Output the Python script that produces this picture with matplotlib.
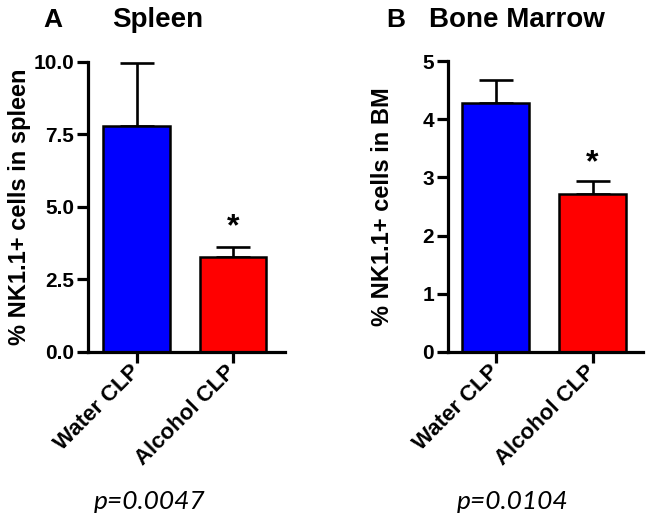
from __future__ import annotations

import matplotlib

matplotlib.use("Agg")

from matplotlib import pyplot as plt
from matplotlib.ticker import FormatStrFormatter

groups = ["Water CLP", "Alcohol CLP"]
bar_colors = ["#0000ff", "#ff0000"]

spleen_mean = [7.79, 3.28]
spleen_sem = [2.17, 0.34]
spleen_star = 4.3
spleen_ticks = [0.0, 2.5, 5.0, 7.5, 10.0]

bm_mean = [4.28, 2.71]
bm_sem = [0.40, 0.23]
bm_star = 3.25
bm_ticks = [0, 1, 2, 3, 4, 5]

panels = ["A", "B"]
titles = ["Spleen", "Bone Marrow"]
ylabels = ["% NK1.1+ cells in spleen", "% NK1.1+ cells in BM"]
pvalues = ["p=0.0047", "p=0.0104"]

plt.rcParams["font.family"] = ["Liberation Sans", "DejaVu Sans"]
plt.rcParams["font.weight"] = "bold"


def draw_panel(ax, means, sems, star_y, ticks, ylabel, xlim, fmt):
    x = list(range(len(groups)))
    ax.bar(x, means, width=0.69, color=bar_colors, edgecolor="black", linewidth=1.8, zorder=2)
    ax.errorbar(
        x,
        means,
        yerr=[[0] * len(sems), sems],
        fmt="none",
        ecolor="black",
        elinewidth=1.9,
        capsize=12,
        capthick=1.9,
        zorder=1,
    )
    ax.text(1, star_y, "*", ha="center", va="center", fontsize=23, fontweight="bold")

    ax.set_xlim(*xlim)
    ax.set_ylim(0, ticks[-1])
    ax.set_yticks(ticks)
    ax.yaxis.set_major_formatter(FormatStrFormatter(fmt))
    ax.set_xticks(x)
    ax.set_xticklabels(groups, rotation=45, ha="right", va="center", rotation_mode="anchor")
    for side in ("top", "right"):
        ax.spines[side].set_visible(False)
    for side in ("left", "bottom"):
        ax.spines[side].set_linewidth(2.3)
    ax.tick_params(width=2.3, length=8, pad=2)
    ax.tick_params(axis="y", labelsize=15)
    ax.tick_params(axis="x", labelsize=16, pad=4)
    ax.set_ylabel(ylabel, fontsize=17, fontweight="bold")


def main() -> None:
    fig = plt.figure(figsize=(6.51, 5.21), dpi=100)
    ax_a = fig.add_axes([0.1352, 0.3244, 0.3026, 0.5566])
    ax_b = fig.add_axes([0.6882, 0.3244, 0.2995, 0.5585])

    draw_panel(ax_a, spleen_mean, spleen_sem, spleen_star, spleen_ticks, ylabels[0], (-0.503, 1.539), "%.1f")
    draw_panel(ax_b, bm_mean, bm_sem, bm_star, bm_ticks, ylabels[1], (-0.49, 1.52), "%d")

    ax_a.yaxis.set_label_coords(-0.29, 0.5)
    ax_b.yaxis.set_label_coords(-0.277, 0.5)

    fig.text(53 / 651, 1 - 27 / 521, panels[0], ha="center", va="baseline", fontsize=19, fontweight="bold")
    fig.text(158 / 651, 1 - 27 / 521, titles[0], ha="center", va="baseline", fontsize=20, fontweight="bold")
    fig.text(396 / 651, 1 - 27 / 521, panels[1], ha="center", va="baseline", fontsize=19, fontweight="bold")
    fig.text(517 / 651, 1 - 27 / 521, titles[1], ha="center", va="baseline", fontsize=20, fontweight="bold")

    for xc, label in zip([150, 513], pvalues):
        fig.text(xc / 651, 1 - 509 / 521, label, ha="center", va="baseline",
                 fontsize=19, fontstyle="italic", fontweight="normal", family=["Lato", "DejaVu Sans"])

    fig.savefig("out.png", dpi=100)
    plt.close(fig)


if __name__ == "__main__":
    main()
